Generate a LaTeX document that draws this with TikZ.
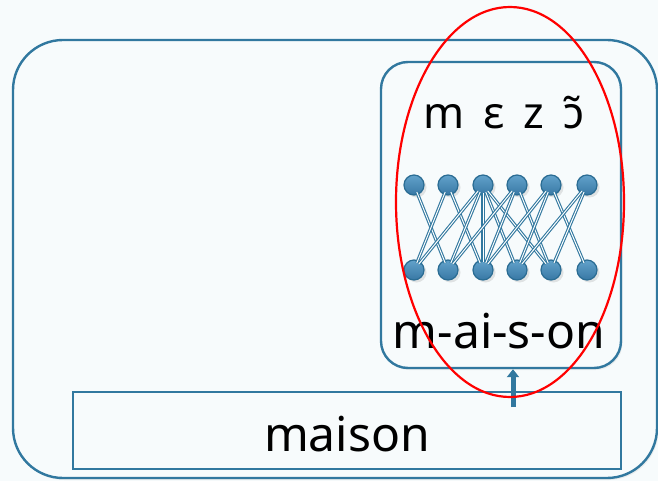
\documentclass[tikz,border=0pt]{standalone}
\usepackage{fontspec}
\setmainfont{Noto Sans}
\usetikzlibrary{arrows.meta,shadows}
\definecolor{bgc}{HTML}{F7FBFC}
\definecolor{steel}{HTML}{31789F}
\definecolor{dotlight}{HTML}{62A2CB}
\definecolor{dotdark}{HTML}{3878A4}
\definecolor{dotedge}{HTML}{2A6C93}
\begin{document}
\begin{tikzpicture}[x=1pt,y=-1pt,
  frame/.style={draw=steel,line width=2.4pt},
  dot/.style={circle,draw=dotedge,line width=1.2pt,minimum width=19pt,minimum height=20pt,inner sep=0pt,
    top color=dotlight,bottom color=dotdark,
    drop shadow={opacity=0.2,shadow xshift=2.5pt,shadow yshift=-2.5pt}},
  link/.style={draw=steel,line width=1.1pt,double=white,double distance=1pt,shorten <=-3pt,shorten >=-3pt},
  bigtext/.style={font=\fontsize{48}{48}\selectfont,anchor=base,inner sep=0pt},
  toptext/.style={font=\fontsize{44}{44}\selectfont,anchor=base,inner sep=0pt},
  uparrow/.style={draw=steel,line width=5pt,-{Triangle[width=12pt,length=8pt]}}
]
\fill[bgc] (0,0) rectangle (658,481);
\useasboundingbox (0,0) rectangle (658,481);

% outer frame
\draw[frame,rounded corners=50pt,fill=bgc,
  drop shadow={opacity=0.12,shadow xshift=1.5pt,shadow yshift=-2pt}]
  (13,40) rectangle (657,478);

% inner box
\node[frame,rounded corners=27pt,fill=bgc,minimum width=240pt,minimum height=306pt,inner sep=0pt,
  drop shadow={opacity=0.12,shadow xshift=1.5pt,shadow yshift=-2pt}]
  (inner) at (501,215) {};

% maison box
\node[draw=steel,line width=2pt,fill=bgc,minimum width=548pt,minimum height=77pt,inner sep=0pt]
  (mbox) at (347,430.5) {};

% texts
\node[toptext] (phon) at (504,129) {m\, ɛ\, z\, ɔ̃};
\node[bigtext] (syll) at (499,348) {m-ai-s-on};
\node[bigtext] (word) at (347,451) {maison};

% network nodes
\foreach \i/\x in {1/414,2/448,3/483,4/517,5/551,6/587}{
  \node[dot] (t\i) at (\x,185) {};
  \node[dot] (b\i) at (\x,270) {};
}

% connections
\foreach \a/\b in {1/2,2/1,2/3,3/1,3/2,3/3,3/4,3/5,4/2,4/3,4/5,5/3,5/4,5/6,6/4,6/5}{
  \draw[link] (t\a) -- (b\b);
}

% arrow
\coordinate (astart) at (513,407);
\draw[uparrow] (astart) -- (astart |- inner.south);

% red ellipse
\draw[red,line width=2.2pt] (510,202) ellipse [x radius=114, y radius=195];
\end{tikzpicture}
\end{document}
